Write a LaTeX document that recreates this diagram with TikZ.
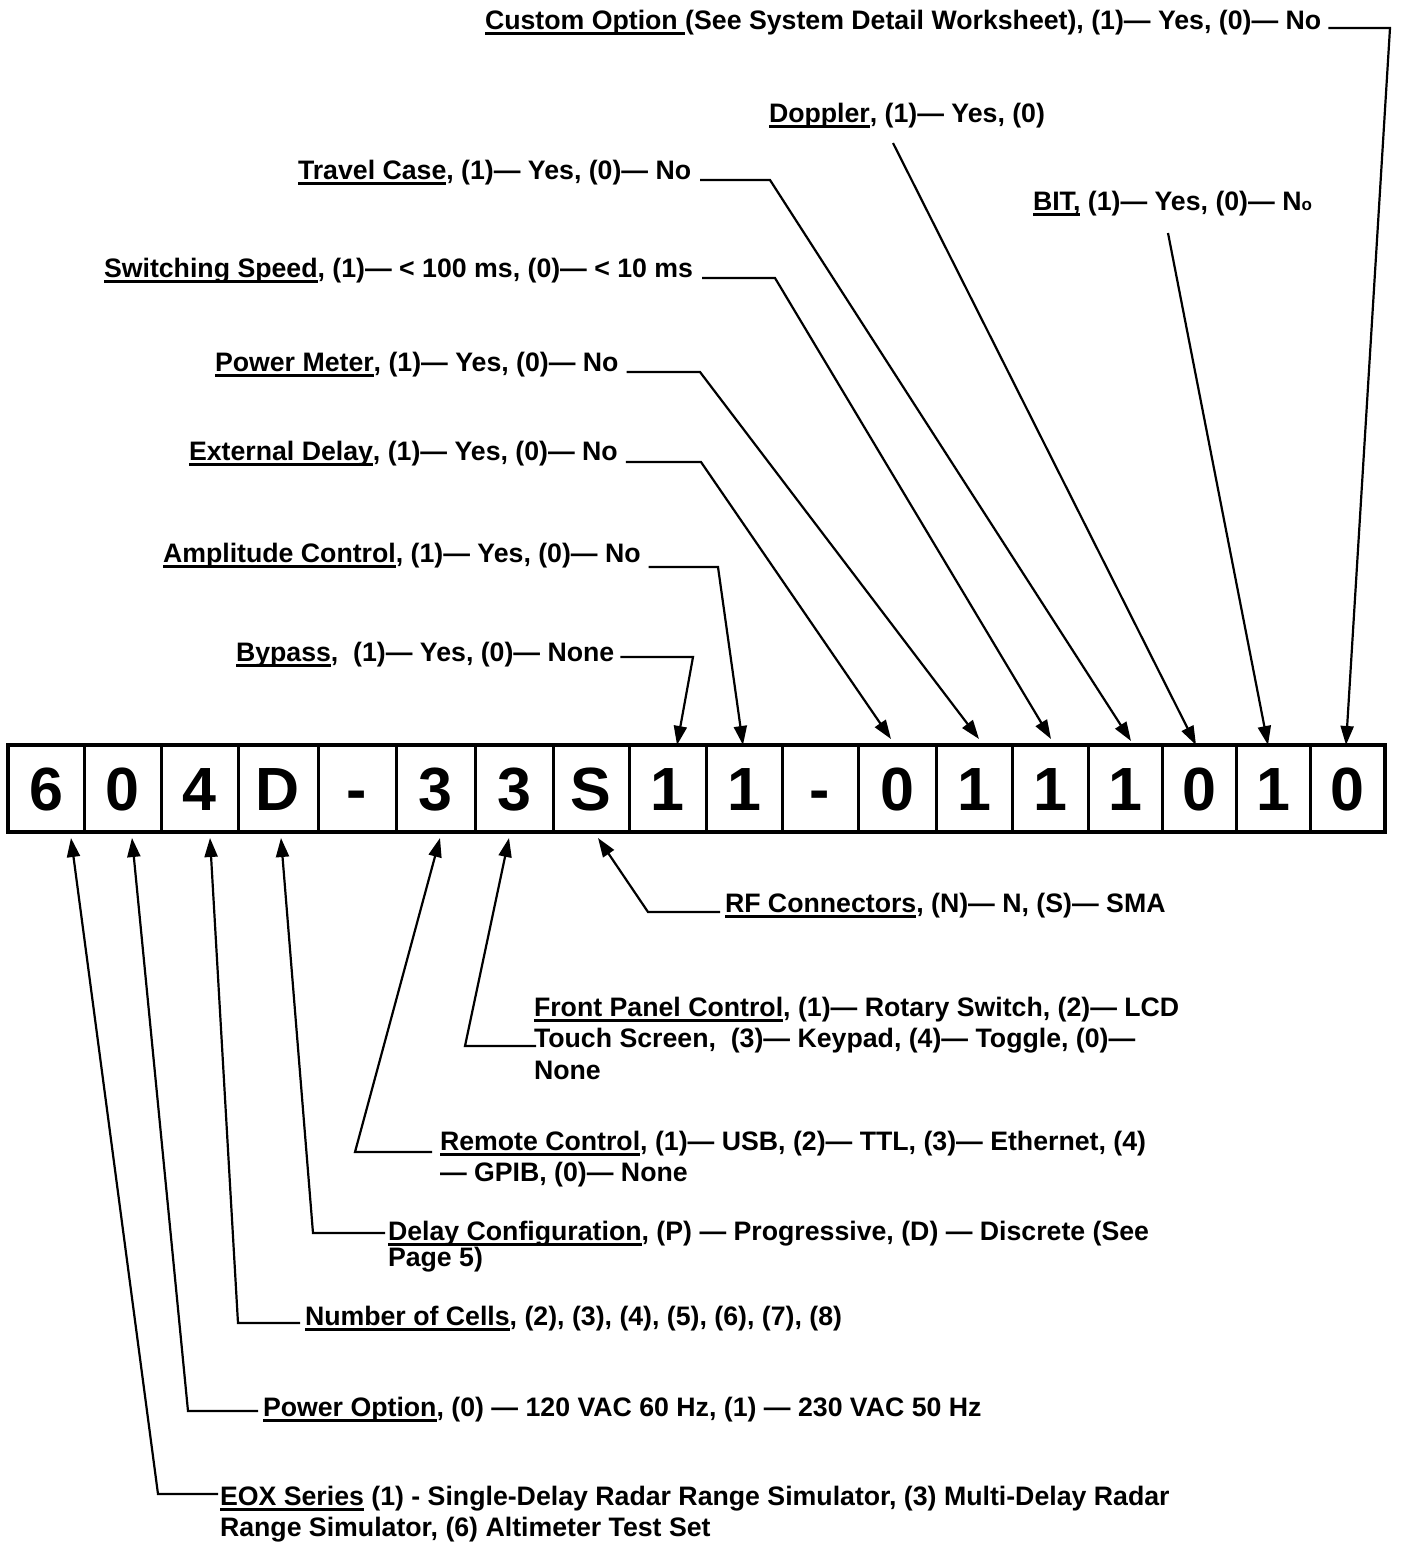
\documentclass[tikz,border=0pt]{standalone}
\usepackage{fontspec}
\setmainfont{Liberation Sans}
\usetikzlibrary{arrows.meta}
\newcommand\ukey[1]{\setbox0\hbox{#1}\rlap{\rule[-6pt]{\wd0}{2.6pt}}\box0\relax}
\newcommand\mlines[2][31.5pt]{\vtop{\baselineskip=#1\relax #2}}
\begin{document}
\begin{tikzpicture}[x=1pt,y=-1pt,
  lab/.style={anchor=base west, inner sep=0pt, outer sep=0pt, font=\fontsize{26.7}{31.5}\selectfont\bfseries},
  cell/.style={draw, line width=3pt, inner sep=0pt, outer sep=0pt, minimum height=87pt, text height=44pt, text depth=0pt, font=\fontsize{61}{61}\selectfont\bfseries},
  conn/.style={line width=2.2pt, -{Triangle[length=19pt,width=13pt]}}]
\fill[white] (0,0) rectangle (1403,1543);
\useasboundingbox (0,0) rectangle (1403,1543);

% code boxes
\foreach \i/\l/\r/\t in {1/8/84/6, 2/84/161/0, 3/161/238/4, 4/238/318/D, 5/318/396/-, 6/396/475/3, 7/475/553/3, 8/553/629/S, 9/629/706/1, 10/706/782/1, 11/782/858/-, 12/858/936/0, 13/936/1012/1, 14/1012/1088/1, 15/1088/1162/1, 16/1162/1236/0, 17/1236/1310/1, 18/1310/1385/0}
  \node[cell, minimum width={\r-\l}] (c\i) at ({(\l+\r)/2},788.5) {\t};
\draw[line width=4pt] (c1.north west) rectangle (c18.south east);

% top labels
\node[lab] (custom) at (485,29) {\ukey{Custom Option }(See System Detail Worksheet), (1)— Yes, (0)— No};
\node[lab] (doppler) at (769,122) {\ukey{Doppler}, (1)— Yes, (0)};
\node[lab] (bit) at (1033,210) {\ukey{BIT,} (1)— Yes, (0)— N{\fontsize{17}{17}\selectfont o}};
\node[lab] (travel) at (298,179) {\ukey{Travel Case}, (1)— Yes, (0)— No};
\node[lab] (switch) at (104,277) {\ukey{Switching Speed}, (1)— < 100 ms, (0)— < 10 ms};
\node[lab] (pmeter) at (215,371) {\ukey{Power Meter}, (1)— Yes, (0)— No};
\node[lab] (extdelay) at (189,460) {\ukey{External Delay}, (1)— Yes, (0)— No};
\node[lab] (ampl) at (163,562) {\ukey{Amplitude Control}, (1)— Yes, (0)— No};
\node[lab] (bypass) at (236,661) {\ukey{Bypass},\ \ (1)— Yes, (0)— None};

% bottom labels
\node[lab] (rf) at (725,912) {\ukey{RF Connectors}, (N)— N, (S)— SMA};
\node[lab] (front) at (534,1016) {\mlines{\hbox{\ukey{Front Panel Control}, (1)— Rotary Switch, (2)— LCD}\hbox{Touch Screen,\ \ (3)— Keypad, (4)— Toggle, (0)—}\hbox{None}}};
\node[lab] (remote) at (440,1150) {\mlines{\hbox{\ukey{Remote Control}, (1)— USB, (2)— TTL, (3)— Ethernet, (4)}\hbox{— GPIB, (0)— None}}};
\node[lab] (delay) at (388,1240) {\mlines[23pt]{\hbox{\ukey{Delay Configuration}, (P) — Progressive, (D) — Discrete (See}\hbox{Page 5)}}};
\node[lab] (ncells) at (305,1325) {\ukey{Number of Cells}, (2), (3), (4), (5), (6), (7), (8)};
\node[lab] (popt) at (263,1416) {\ukey{Power Option}, (0) — 120 VAC 60 Hz, (1) — 230 VAC 50 Hz};
\node[lab] (eox) at (220,1505) {\mlines{\hbox{\ukey{EOX Series} (1) - Single-Delay Radar Range Simulator, (3) Multi-Delay Radar}\hbox{Range Simulator, (6) Altimeter Test Set}}};

% corner points
\coordinate (kcustom) at (1390,28);
\coordinate (ktravel) at (770,180);
\coordinate (kswitch) at (775,278);
\coordinate (kpmeter) at (700,372);
\coordinate (kext) at (701,462);
\coordinate (kampl) at (718,567);
\coordinate (kbypass) at (693,657);
\coordinate (krf) at (648,912);
\coordinate (kfront) at (465,1046);
\coordinate (kremote) at (355,1152);
\coordinate (kdelay) at (313,1233);
\coordinate (kcells) at (238,1323);
\coordinate (kpopt) at (188,1411);
\coordinate (keox) at (158,1494);

% top connectors
\draw[conn] ([xshift=7pt,yshift=1pt]custom.base east) -- (kcustom) -- ([xshift=-1.5pt]c18.north);
\draw[conn] ([xshift=124pt,yshift=-21pt]doppler.base west) -- ([xshift=-3pt]c16.north);
\draw[conn] ([xshift=135pt,yshift=-23pt]bit.base west) -- ([xshift=-5pt]c17.north);
\draw[conn] ([xshift=9pt,yshift=-1pt]travel.base east) -- (ktravel) -- ([xshift=6pt,yshift=4pt]c15.north);
\draw[conn] ([xshift=9pt,yshift=-1pt]switch.base east) -- (kswitch) -- ([xshift=1pt,yshift=6pt]c14.north);
\draw[conn] ([xshift=8pt,yshift=-1pt]pmeter.base east) -- (kpmeter) -- ([xshift=5pt,yshift=6pt]c13.north);
\draw[conn] ([xshift=8pt,yshift=-2pt]extdelay.base east) -- (kext) -- ([xshift=-6pt,yshift=6pt]c12.north);
\draw[conn] ([xshift=8pt,yshift=-5pt]ampl.base east) -- (kampl) -- ([xshift=-1pt]c10.north);
\draw[conn] ([xshift=6pt,yshift=4pt]bypass.base east) -- (kbypass) -- ([xshift=9.5pt]c9.north);

% bottom connectors
\draw[conn] ([xshift=-5pt]rf.base west) -- (krf) -- ([xshift=7pt,yshift=-6pt]c8.south);
\draw[conn] ([xshift=2pt,yshift=-30pt]front.base west) -- (kfront) -- ([xshift=-5pt,yshift=-6pt]c7.south);
\draw[conn] ([xshift=-8pt,yshift=-2pt]remote.base west) -- (kremote) -- ([xshift=4.5pt,yshift=-6pt]c6.south);
\draw[conn] ([xshift=-3pt,yshift=7pt]delay.base west) -- (kdelay) -- ([xshift=3pt,yshift=-6pt]c4.south);
\draw[conn] ([xshift=-5pt,yshift=2pt]ncells.base west) -- (kcells) -- ([xshift=10.5pt,yshift=-6pt]c3.south);
\draw[conn] ([xshift=-5pt,yshift=5pt]popt.base west) -- (kpopt) -- ([xshift=9.5pt,yshift=-6pt]c2.south);
\draw[conn] ([xshift=-2pt,yshift=11pt]eox.base west) -- (keox) -- ([xshift=25pt,yshift=-6pt]c1.south);
\end{tikzpicture}
\end{document}
